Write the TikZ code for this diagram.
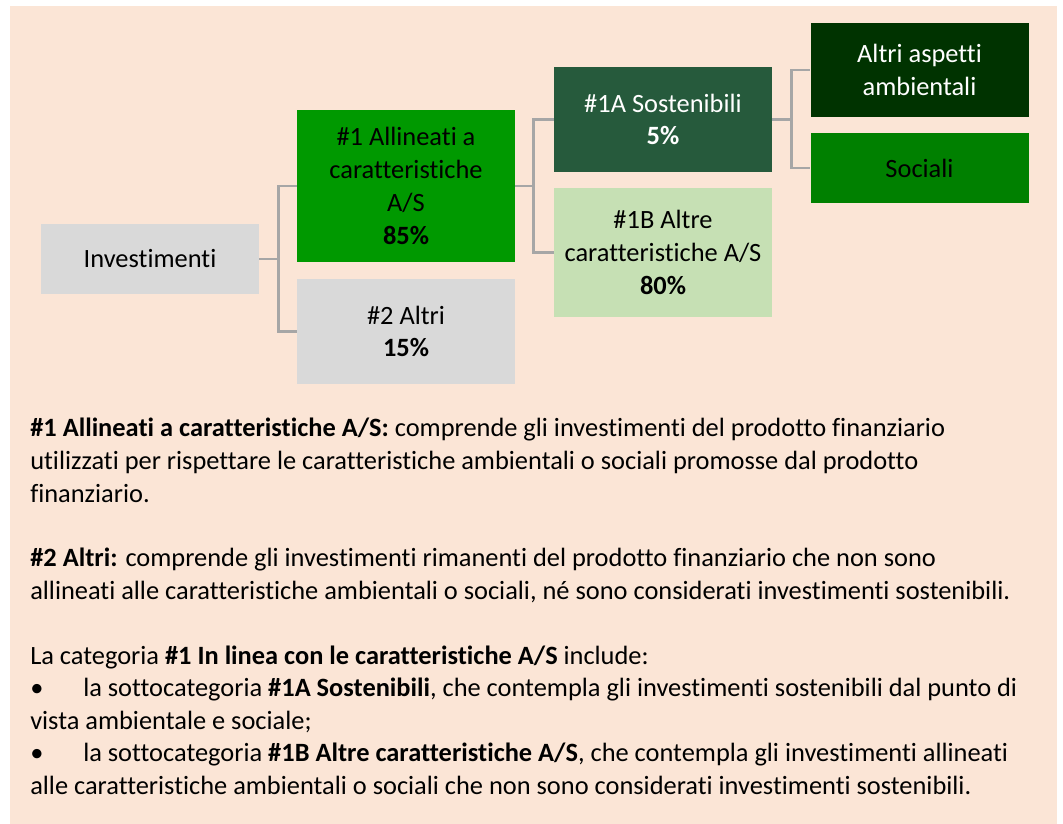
\documentclass[tikz,border=0pt]{standalone}
\usepackage{fontspec}
\setmainfont[Ligatures={NoCommon}]{Carlito}
\usepackage{xcolor}
\usepackage{tikz}
\usetikzlibrary{positioning,calc}
\definecolor{panel}{HTML}{FBE5D6}
\definecolor{greybox}{HTML}{D9D9D9}
\definecolor{alignG}{HTML}{009900}
\definecolor{sostG}{HTML}{265A3C}
\definecolor{ambG}{HTML}{003300}
\definecolor{socG}{HTML}{008000}
\definecolor{altreG}{HTML}{C6E0B4}
\definecolor{linkgrey}{HTML}{A6A6A6}
\newcommand{\boxfont}{\fontsize{19.8pt}{24.6pt}\selectfont}
\newcommand{\bodyfont}{\fontsize{19.8pt}{24.4pt}\selectfont}
\newcommand{\bul}{\makebox[39.75pt][l]{\textbullet}}

\begin{document}
\begin{tikzpicture}[
  x=0.75pt, y=-0.75pt,
  cat/.style={inner sep=0pt, minimum width=163.5pt, align=center, font=\boxfont, text=black},
  grey/.style={cat, fill=greybox},
  link/.style={draw=linkgrey, line width=2pt},
  legend/.style={anchor=base west, inner sep=0pt, align=left, font=\bodyfont},
]
\useasboundingbox (0,0) rectangle (1063,824);
\fill[panel] (10,6) rectangle (1057,824);
% ---------- tree ----------
\node[grey, minimum height=52.5pt] (inv) at (150,259) {Investimenti};
\node[cat, fill=alignG, minimum height=114pt] (a1) at (406,186)
  {\#1 Allineati a\\caratteristiche\\A/S\\\textbf{85\%}};
\node[grey, minimum height=78.75pt] (a2) at (406,331.5) {\#2 Altri\\\textbf{15\%}};
\node[cat, fill=sostG, text=white, minimum height=78.75pt] (s1A) at (663,119.5)
  {\#1A Sostenibili\\\textbf{5\%}};
\node[cat, fill=altreG, minimum height=96.75pt] (s1B) at (663,252.5)
  {\#1B Altre\\caratteristiche A/S\\\textbf{80\%}};
\node[cat, fill=ambG, text=white, minimum height=70.5pt] (amb) at (919.5,70)
  {Altri aspetti\\ambientali};
\node[cat, fill=socG, minimum height=52.5pt] (soc) at (919.5,168) {Sociali};
% ---------- connectors ----------
\draw[link] (inv.east) -- ++(19,0) |- (a1.west);
\draw[link] (inv.east) -- ++(19,0) |- (a2.west);
\draw[link] (a1.east) -- ++(18,0) |- (s1A.west);
\draw[link] (a1.east) -- ++(18,0) |- (s1B.west);
\draw[link] (s1A.east) -- ++(19,0) |- (amb.west);
\draw[link] (s1A.east) -- ++(19,0) |- (soc.west);
% ---------- legend (base = last line) ----------
\node[legend] (par1) at (30,502)
  {\textbf{\#1 Allineati a caratteristiche A/S:} comprende gli investimenti del prodotto finanziario\\
   utilizzati per rispettare le caratteristiche ambientali o sociali promosse dal prodotto\\
   finanziario.};
\node[legend] (par2) at (30,599.5)
  {\textbf{\#2 Altri:} comprende gli investimenti rimanenti del prodotto finanziario che non sono\\
   allineati alle caratteristiche ambientali o sociali, né sono considerati investimenti sostenibili.};
\node[legend] (par3) at (30,794.5)
  {La categoria \textbf{\#1 In linea con le caratteristiche A/S} include:\\
   \bul la sottocategoria \textbf{\#1A Sostenibili}, che contempla gli investimenti sostenibili dal punto di\\
   vista ambientale e sociale;\\
   \bul la sottocategoria \textbf{\#1B Altre caratteristiche A/S}, che contempla gli investimenti allineati\\
   alle caratteristiche ambientali o sociali che non sono considerati investimenti sostenibili.};
\end{tikzpicture}
\end{document}
